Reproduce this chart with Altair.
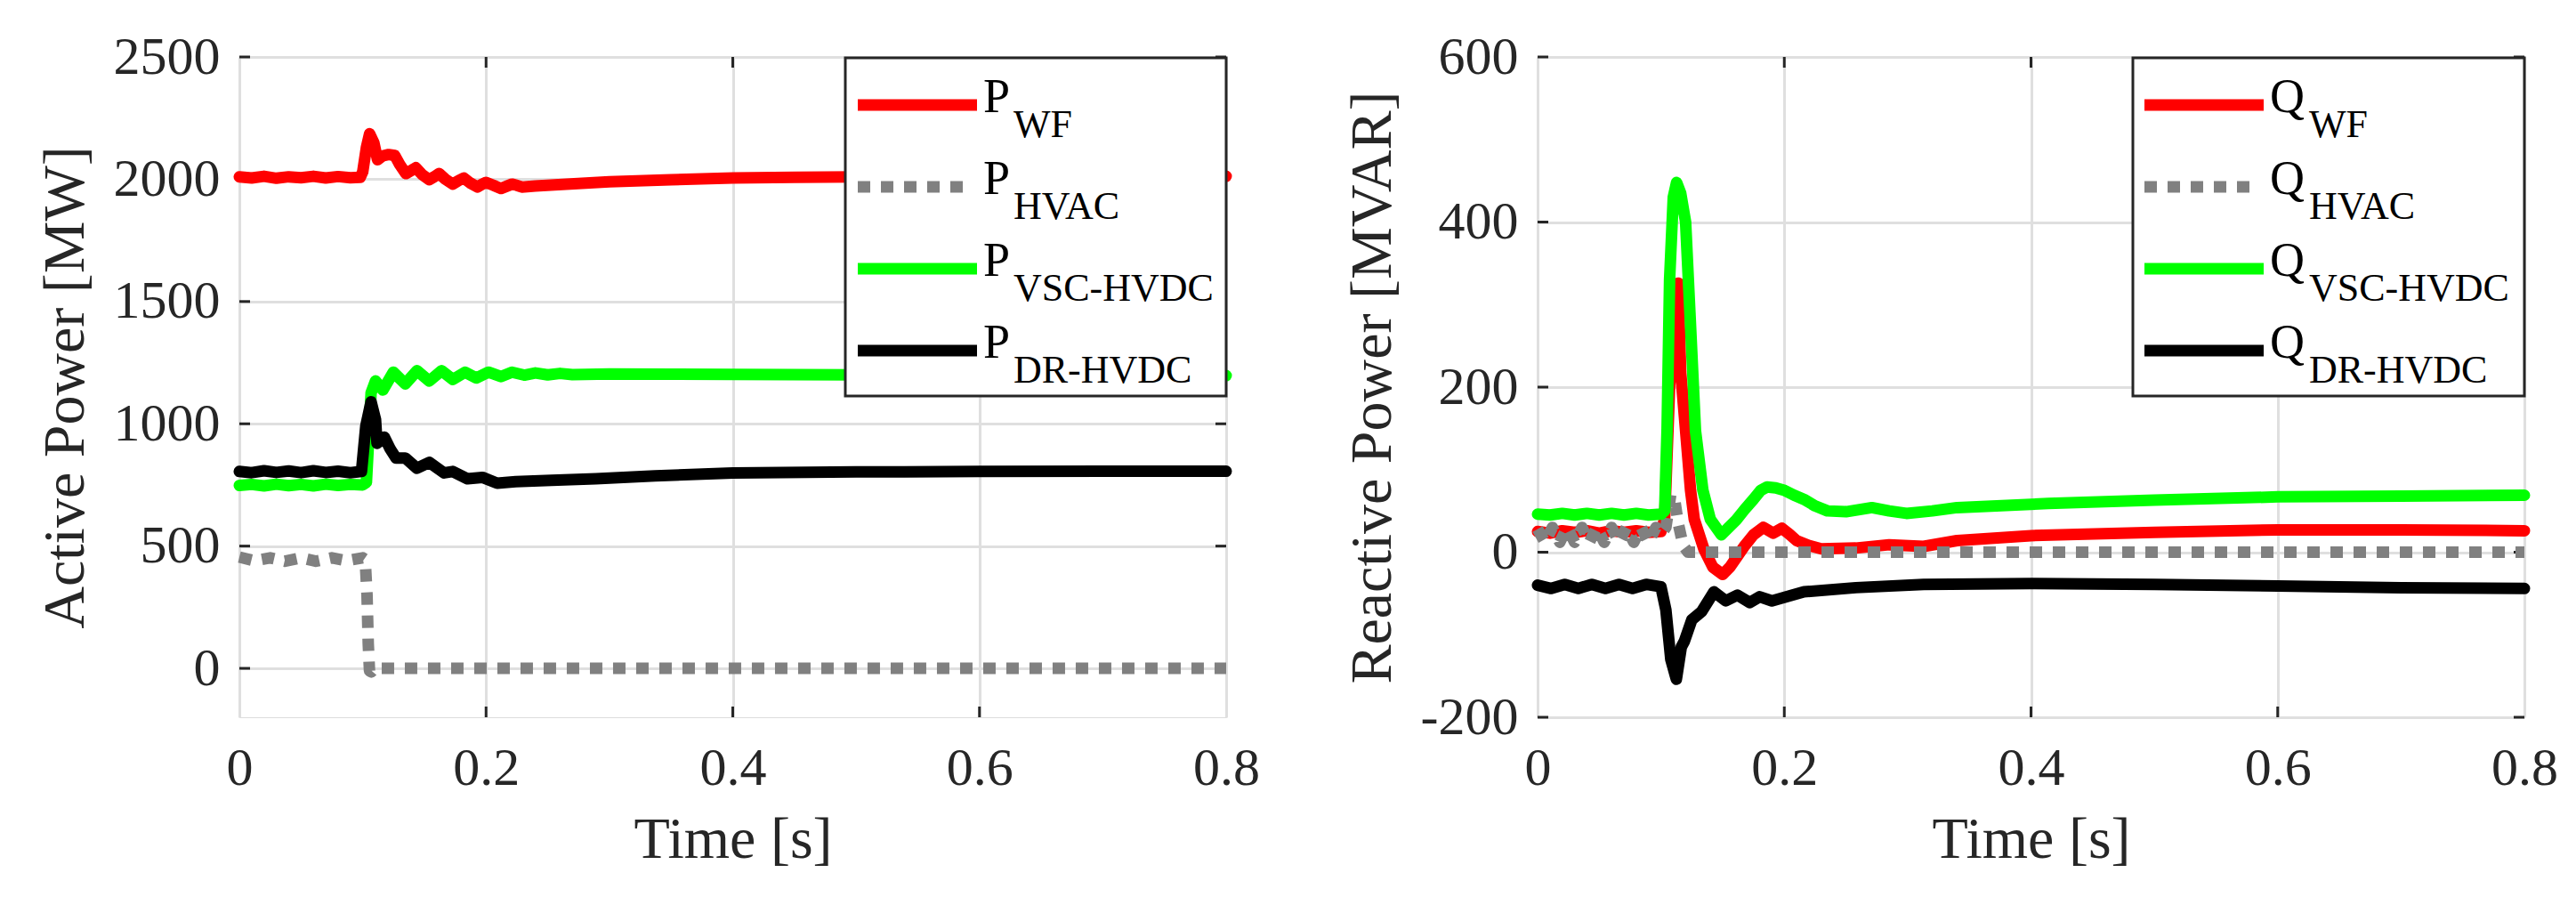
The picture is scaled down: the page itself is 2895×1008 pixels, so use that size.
import altair as alt
import pandas as pd

# ---------------- data ----------------
# Left panel: active power [MW]
t_p_wf = [0, 0.01, 0.02, 0.03, 0.04, 0.05, 0.06, 0.07, 0.08, 0.09, 0.098, 0.1, 0.103, 0.1056, 0.109,
          0.112, 0.116, 0.121, 0.126, 0.13, 0.135, 0.139, 0.143, 0.148, 0.154, 0.158, 0.162, 0.167,
          0.173, 0.178, 0.182, 0.187, 0.193, 0.197, 0.2, 0.206, 0.212, 0.217, 0.221, 0.225, 0.229,
          0.24, 0.265, 0.3, 0.35, 0.4, 0.45, 0.5, 0.6, 0.7, 0.8]
p_wf = [2010, 2005, 2012, 2004, 2010, 2006, 2012, 2005, 2011, 2006, 2008, 2030, 2130, 2186, 2150,
        2080, 2095, 2101, 2097, 2060, 2023, 2035, 2047, 2020, 1998, 2010, 2023, 2000,
        1980, 1995, 2005, 1985, 1968, 1980, 1987, 1975, 1962, 1972, 1980, 1975, 1968,
        1972, 1980, 1990, 1998, 2005, 2008, 2010, 2012, 2012, 2012]

t_p_hvac = [0, 0.012, 0.025, 0.037, 0.05, 0.062, 0.075, 0.087, 0.1, 0.102, 0.1035, 0.1045, 0.1055,
            0.107, 0.109, 0.112, 0.8]
p_hvac = [455, 440, 452, 438, 452, 438, 452, 440, 452, 445, 300, 100, -10, -15, -3, 0, 0]

t_p_vsc = [0, 0.01, 0.02, 0.03, 0.04, 0.05, 0.06, 0.07, 0.08, 0.09, 0.1, 0.103, 0.1068, 0.1104,
           0.1164, 0.1248, 0.1345, 0.144, 0.154, 0.164, 0.173, 0.183, 0.192, 0.202, 0.212, 0.221,
           0.231, 0.24, 0.25, 0.26, 0.27, 0.3, 0.35, 0.4, 0.5, 0.6, 0.7, 0.8]
p_vsc = [748, 752, 746, 753, 747, 752, 746, 753, 748, 752, 750, 760, 1126, 1175,
         1138, 1211, 1163, 1217, 1175, 1217, 1181, 1211, 1187, 1211, 1193, 1211,
         1199, 1208, 1200, 1206, 1201, 1204, 1203, 1202, 1200, 1200, 1198, 1197]

t_p_dr = [0, 0.01, 0.02, 0.03, 0.04, 0.05, 0.06, 0.07, 0.08, 0.09, 0.099, 0.1025, 0.1068, 0.1104,
          0.1116, 0.1176, 0.1224, 0.127, 0.1345, 0.144, 0.154, 0.166, 0.173, 0.185, 0.197, 0.209,
          0.224, 0.253, 0.289, 0.337, 0.4, 0.5, 0.6, 0.7, 0.8]
p_dr = [805, 800, 808, 801, 807, 800, 808, 801, 806, 800, 805, 990, 1090, 1017,
        920, 945, 896, 860, 860, 818, 842, 799, 805, 775, 781, 757,
        763, 769, 775, 787, 799, 803, 805, 806, 806]

# Right panel: reactive power [MVAR]
t_q_wf = [0, 0.01, 0.02, 0.03, 0.04, 0.05, 0.06, 0.07, 0.08, 0.09, 0.1, 0.103, 0.107, 0.111, 0.114,
          0.116, 0.12, 0.124, 0.127, 0.135, 0.142, 0.15, 0.156, 0.161, 0.168, 0.175, 0.183, 0.191,
          0.198, 0.204, 0.21, 0.22, 0.23, 0.258, 0.285, 0.313, 0.34, 0.4, 0.5, 0.6, 0.7, 0.8]
q_wf = [25, 23, 26, 24, 26, 23, 26, 24, 26, 24, 25, 40, 200, 300, 326,
        218, 147, 75, 40, 3, -18, -27, -18, -7, 8, 21, 30, 23,
        29, 22, 14, 8, 4, 5, 9, 7, 14, 20, 24, 27, 27, 26]

t_q_hvac = [0, 0.006, 0.012, 0.018, 0.024, 0.03, 0.036, 0.042, 0.048, 0.054, 0.06, 0.066, 0.072,
            0.078, 0.084, 0.09, 0.096, 0.1, 0.104, 0.108, 0.111, 0.114, 0.118, 0.122, 0.8]
q_hvac = [28, 12, 30, 12, 30, 12, 30, 12, 30, 12, 30, 12, 30,
          12, 30, 12, 30, 22, 30, 70, 65, 35, 8, 0, 0]

t_q_vsc = [0, 0.01, 0.02, 0.03, 0.04, 0.05, 0.06, 0.07, 0.08, 0.09, 0.1, 0.103, 0.105, 0.107,
           0.11, 0.1127, 0.116, 0.12, 0.1235, 0.128, 0.134, 0.14, 0.149, 0.155, 0.161, 0.168,
           0.175, 0.181, 0.186, 0.193, 0.2, 0.208, 0.216, 0.225, 0.235, 0.25, 0.271, 0.285,
           0.299, 0.32, 0.34, 0.414, 0.5, 0.6, 0.7, 0.8]
q_vsc = [46, 45, 47, 45, 47, 45, 47, 45, 47, 45, 46, 50, 150, 330,
         430, 448, 435, 400, 290, 147, 75, 40, 21, 30, 39, 52,
         64, 75, 79, 78, 75, 69, 64, 56, 50, 49, 54, 50,
         47, 50, 54, 59, 63, 67, 68, 69]

t_q_dr = [0, 0.011, 0.022, 0.033, 0.044, 0.055, 0.066, 0.077, 0.088, 0.1, 0.104, 0.108, 0.1125,
          0.1165, 0.119, 0.125, 0.133, 0.143, 0.1525, 0.162, 0.172, 0.18, 0.19, 0.202, 0.216,
          0.258, 0.313, 0.4, 0.5, 0.6, 0.7, 0.8]
q_dr = [-40, -44, -39, -44, -39, -44, -39, -44, -39, -42, -70, -130, -154,
        -115, -108, -82, -72, -48, -59, -52, -61, -54, -59, -54, -48,
        -43, -39, -38, -39, -41, -43, -44]

x_ticks = [0, 0.2, 0.4, 0.6, 0.8]
p_ticks = [0, 500, 1000, 1500, 2000, 2500]
q_ticks = [-200, 0, 200, 400, 600]
p_subs = ["WF", "HVAC", "VSC-HVDC", "DR-HVDC"]
q_subs = ["WF", "HVAC", "VSC-HVDC", "DR-HVDC"]
colors = ["#ff0000", "#808080", "#00ff00", "#000000"]

# ---------------- styling ----------------
FONT = "Liberation Serif"
AX = "#262626"
GRID = "#dfdfdf"
W, H = 1109, 742
LW = 13
DASH = [14, 12]


def make_panel(series, ydom, yticks, ytitle, letter, subs, box_x0, sample_x0, text_x, sub_x):
    x_enc = alt.X(
        "t:Q",
        scale=alt.Scale(domain=[0, 0.8], nice=False, zero=False),
        axis=alt.Axis(values=x_ticks, labelExpr="'' + datum.value", ticks=False, domain=False,
                      grid=True, gridColor=GRID, gridWidth=3, labelFont=FONT, labelFontSize=60,
                      labelColor=AX, labelPadding=28, labelOverlap=False, labelFlush=False,
                      title="Time [s]", titleFont=FONT, titleFontSize=66, titleFontWeight="normal",
                      titleColor=AX, titlePadding=18),
    )
    y_enc = alt.Y(
        "v:Q",
        scale=alt.Scale(domain=ydom, nice=False, zero=False),
        axis=alt.Axis(values=yticks, labelExpr="'' + datum.value", ticks=False, domain=False,
                      grid=True, gridColor=GRID, gridWidth=3, labelFont=FONT, labelFontSize=60,
                      labelColor=AX, labelPadding=22, labelOverlap=False, labelFlush=False,
                      title=ytitle, titleFont=FONT, titleFontSize=66, titleFontWeight="normal",
                      titleColor=AX, titlePadding=20),
    )
    layers = []
    # inward ticks on all four sides
    ydf = pd.DataFrame({"v": yticks})
    xdf = pd.DataFrame({"t": x_ticks[1:-1]})
    layers.append(alt.Chart(ydf).mark_rule(color=AX, strokeWidth=3).encode(
        y=y_enc, x=alt.value(0), x2=alt.value(12)))
    layers.append(alt.Chart(ydf).mark_rule(color=AX, strokeWidth=3).encode(
        y=y_enc, x=alt.value(W - 12), x2=alt.value(W)))
    layers.append(alt.Chart(xdf).mark_rule(color=AX, strokeWidth=3).encode(
        x=x_enc, y=alt.value(H - 12), y2=alt.value(H)))
    layers.append(alt.Chart(xdf).mark_rule(color=AX, strokeWidth=3).encode(
        x=x_enc, y=alt.value(0), y2=alt.value(12)))
    # data lines
    for i, (t, v) in enumerate(series):
        df = pd.DataFrame({"t": t, "v": v})
        kw = dict(color=colors[i], strokeWidth=LW, strokeJoin="round")
        if i == 1:
            kw.update(strokeDash=DASH, strokeCap="butt")
        else:
            kw.update(strokeCap="round")
        layers.append(alt.Chart(df).mark_line(**kw).encode(x=x_enc, y=y_enc))
    # legend box
    one = pd.DataFrame({"a": [0]})
    layers.append(alt.Chart(one).mark_rect(fill="white", stroke=AX, strokeWidth=3).encode(
        x=alt.value(box_x0), x2=alt.value(W), y=alt.value(1), y2=alt.value(381)))
    for i, sub in enumerate(subs):
        yc = 54 + 92 * i
        kw = dict(color=colors[i], strokeWidth=LW)
        x1 = sample_x0 + 134
        if i == 1:
            kw.update(strokeDash=DASH, strokeCap="butt")
            x1 = sample_x0 + 120
        else:
            kw.update(strokeCap="butt")
        layers.append(alt.Chart(one).mark_rule(**kw).encode(
            x=alt.value(sample_x0), x2=alt.value(x1), y=alt.value(yc)))
        layers.append(alt.Chart(one).mark_text(
            text=letter, font=FONT, fontSize=54, align="left", baseline="alphabetic",
            color="black").encode(x=alt.value(text_x), y=alt.value(yc + 8)))
        layers.append(alt.Chart(one).mark_text(
            text=sub, font=FONT, fontSize=44, align="left", baseline="alphabetic",
            color="black").encode(x=alt.value(sub_x), y=alt.value(yc + 36)))
    return alt.layer(*layers).properties(width=W, height=H)


left = make_panel(
    [(t_p_wf, p_wf), (t_p_hvac, p_hvac), (t_p_vsc, p_vsc), (t_p_dr, p_dr)],
    [-200, 2500], p_ticks, "Active Power [MW]", "P", p_subs,
    box_x0=681, sample_x0=695, text_x=836, sub_x=870)
right = make_panel(
    [(t_q_wf, q_wf), (t_q_hvac, q_hvac), (t_q_vsc, q_vsc), (t_q_dr, q_dr)],
    [-200, 600], q_ticks, "Reactive Power [MVAR]", "Q", q_subs,
    box_x0=669, sample_x0=682, text_x=823, sub_x=867)

chart = alt.hconcat(left, right, spacing=350, bounds="flush").properties(
    padding={"left": 31, "top": 25, "right": 5, "bottom": 5}
).configure_view(stroke=AX, strokeWidth=3).configure_axis(
    labelFont=FONT, titleFont=FONT, labelColor=AX, titleColor=AX
).configure_text(font=FONT).configure(background="white", font=FONT)

chart.save("out.html", embed_options={"renderer": "svg", "actions": False})
